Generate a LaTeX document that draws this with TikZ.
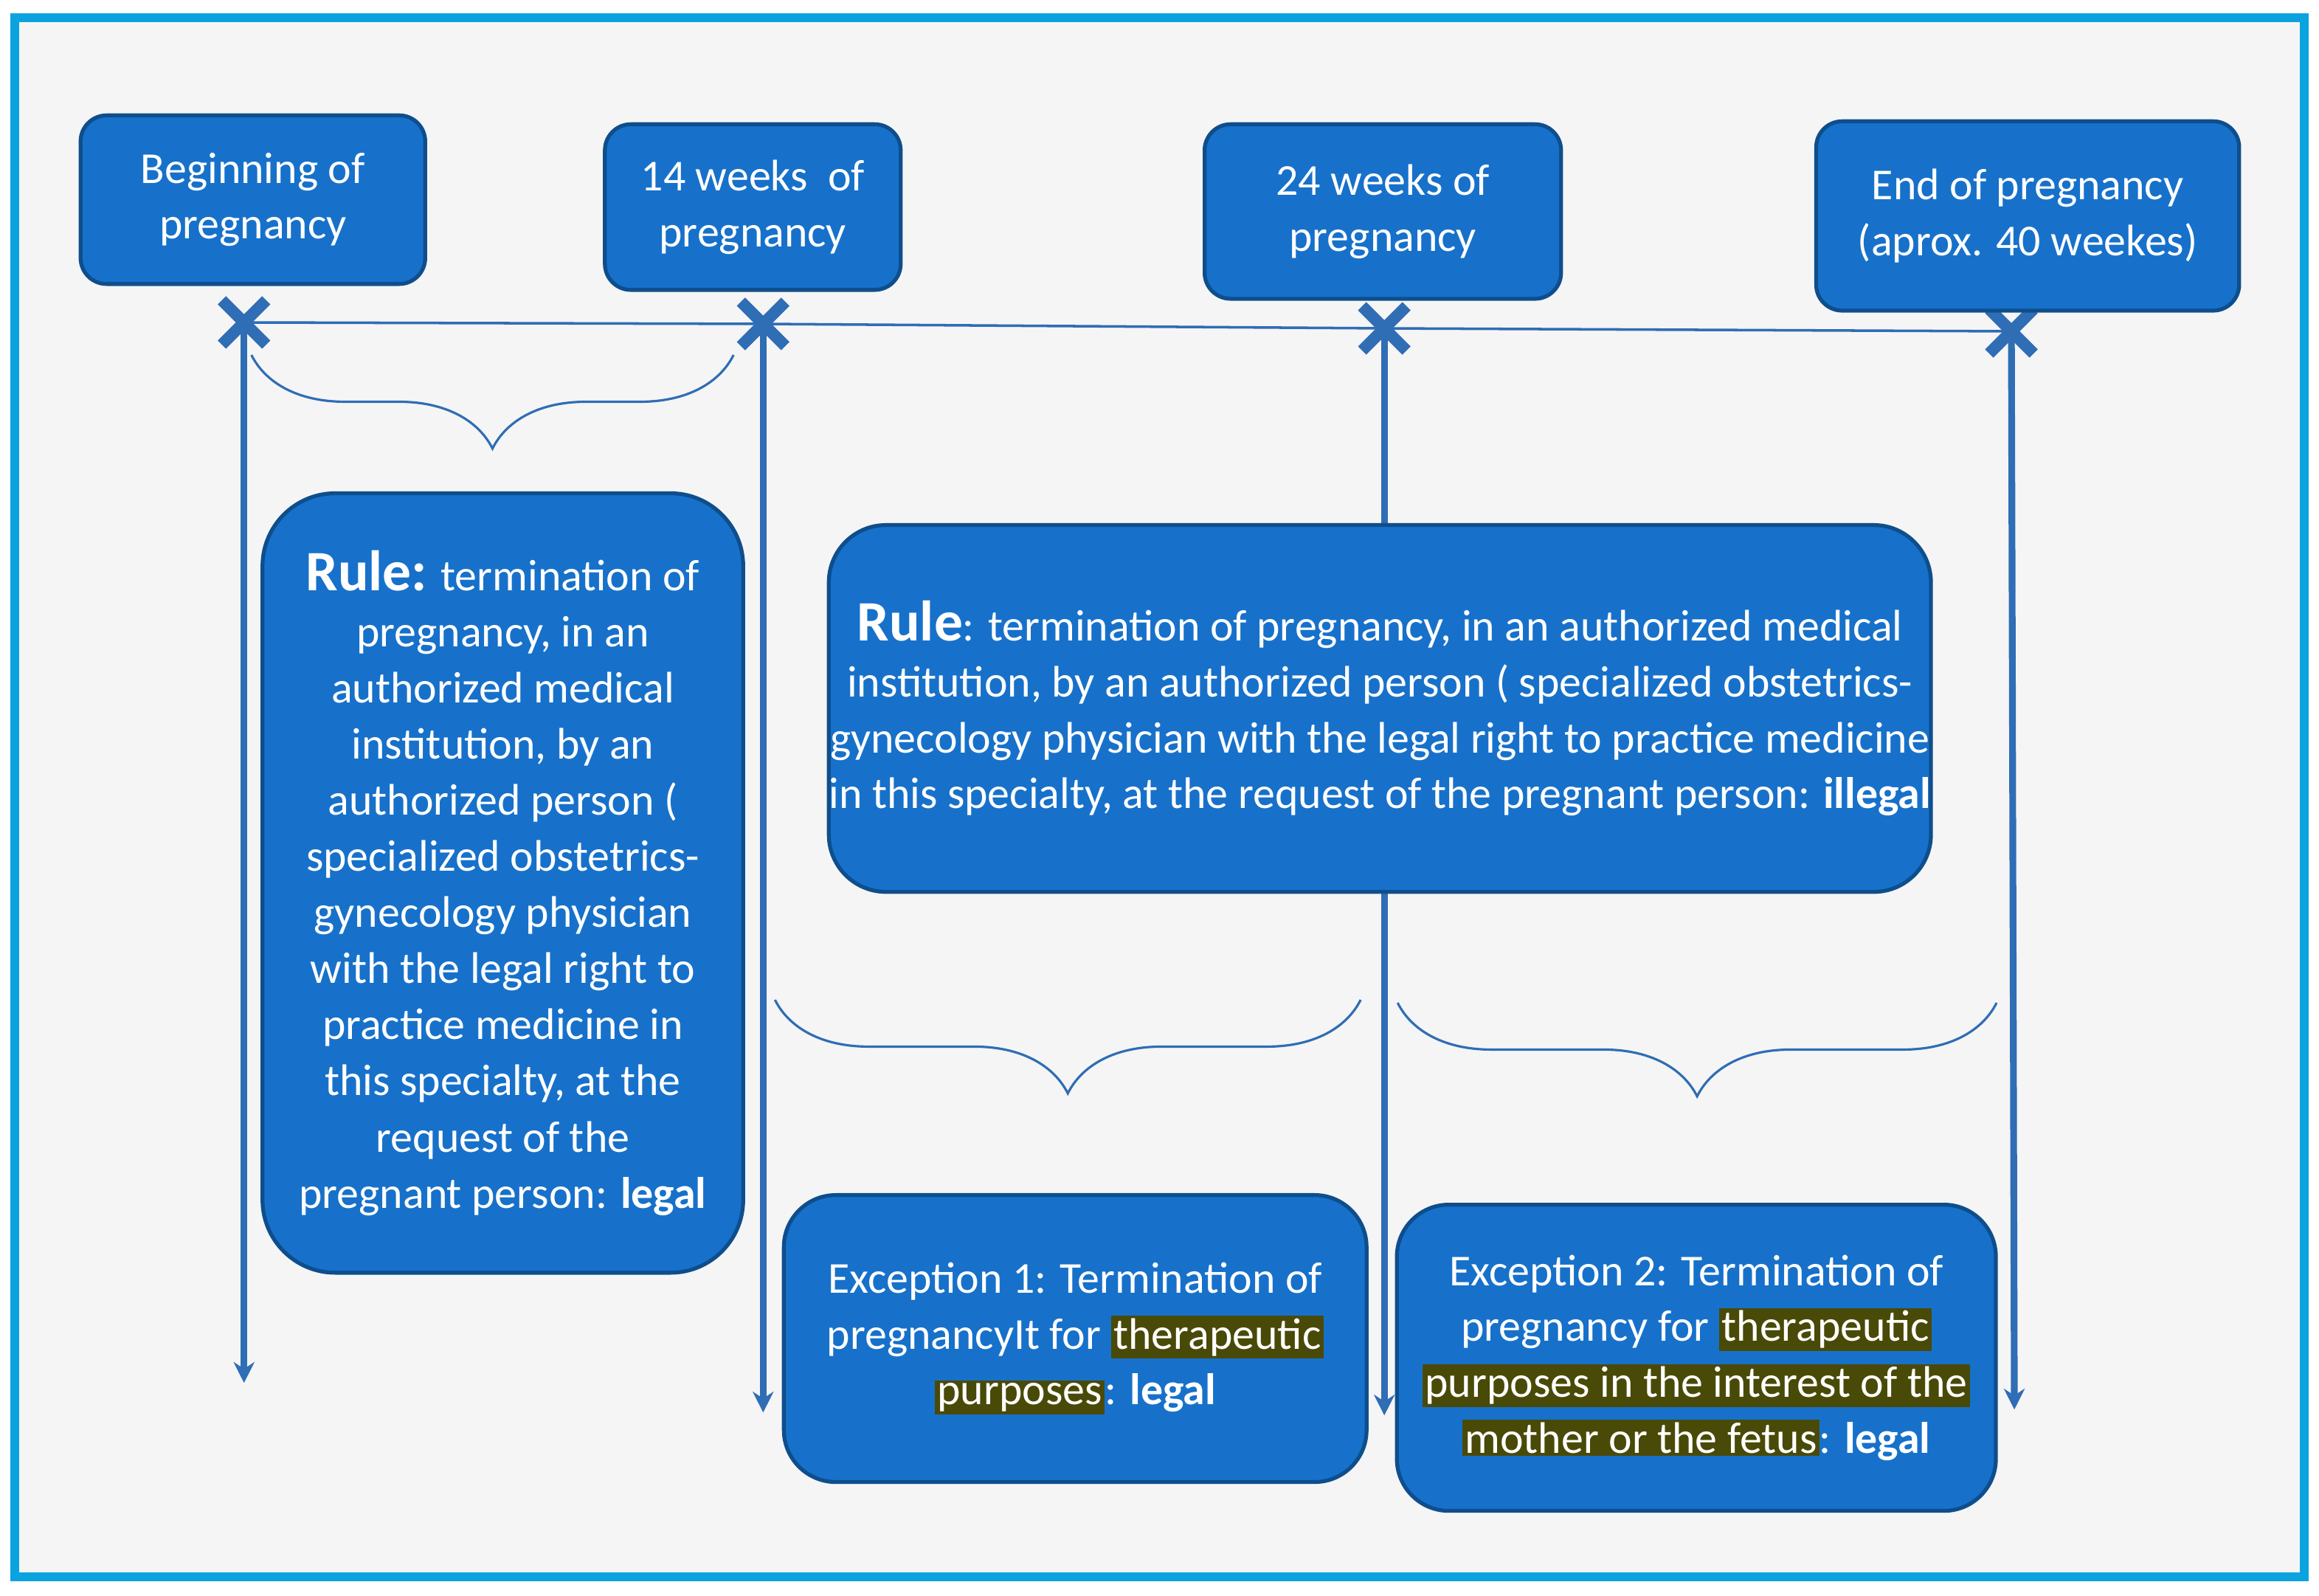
\documentclass[tikz,border=0pt]{standalone}
\usepackage{fontspec}
\setmainfont{Carlito}
\usetikzlibrary{decorations.pathreplacing,arrows.meta,calc}
\definecolor{bx}{HTML}{1771CA}
\definecolor{bd}{HTML}{0E4E8C}
\definecolor{ln}{HTML}{2F6DB5}
\definecolor{cy}{HTML}{0AA3DF}
\definecolor{hl}{HTML}{4A4A08}
\newcommand{\hlt}[1]{{\setlength{\fboxsep}{1pt}\colorbox{hl}{#1}}}
\begin{document}
\begin{tikzpicture}[x=0.02cm,y=-0.02cm,
 box/.style={draw=bd,line width=1.5pt,fill=bx,text=white,align=center,font=\fontsize{17}{21.5}\selectfont,inner sep=0pt},
 ax/.style={draw=ln,line width=2.6pt,-{Stealth[length=8pt,width=8pt]}},
 br/.style={draw=ln,line width=0.9pt,decorate,decoration={brace,mirror,amplitude=36}},
 xm/.style={draw=ln,line width=4.5pt}]
\useasboundingbox (0,0) rectangle (1568,1079);
\fill[white] (0,0) rectangle (1568,1079);
\draw[cy,line width=3.5pt,fill={rgb,255:red,245;green,245;blue,245}] (10,12) rectangle (1558,1066);
% timeline
\coordinate (c1) at (165,218); \coordinate (c2) at (516,219);
\coordinate (c3) at (936,222); \coordinate (c4) at (1360,224);
\draw[ln,line width=1pt] (c1) -- (c2) -- (c3) -- (c4);
\coordinate (e1) at (165,935); \coordinate (e2) at (516,955);
\coordinate (e3) at (936,957); \coordinate (e4) at (1362,953);
\foreach \a/\b in {c1/e1,c2/e2,c3/e3,c4/e4}{\draw[ax] (\a) -- (\b);}
\foreach \c in {c1,c2,c3,c4}{
 \draw[xm] ($(\c)+(-15,-15)$) -- ($(\c)+(15,15)$);
 \draw[xm] ($(\c)+(-15,15)$) -- ($(\c)+(15,-15)$);}
% top boxes
\node[box,rounded corners=10pt,minimum width=233*0.02cm,minimum height=114*0.02cm] (b1) at (171,135) {Beginning of\\pregnancy};
\node[box,rounded corners=10pt,minimum width=200*0.02cm,minimum height=112*0.02cm] (b2) at (509,140) {14 weeks\ \ of\\pregnancy};
\node[box,rounded corners=10pt,minimum width=241*0.02cm,minimum height=118*0.02cm] (b3) at (935,143) {24 weeks of\\pregnancy};
\node[box,rounded corners=10pt,minimum width=286*0.02cm,minimum height=128*0.02cm] (b4) at (1371,146) {End of pregnancy\\(aprox. 40 weekes)};
% rule boxes
\node[box,rounded corners=28pt,minimum width=325*0.02cm,minimum height=527*0.02cm,
 font=\fontsize{17}{21.6}\selectfont] (r1) at (340,597)
 {{\fontsize{22}{21.6}\selectfont\bfseries Rule:} termination of\\pregnancy, in an\\authorized medical\\institution, by an\\authorized person (\\specialized obstetrics-\\gynecology physician\\with the legal right to\\practice medicine in\\this specialty, at the\\request of the\\pregnant person: \textbf{legal}};
\node[box,rounded corners=22pt,minimum width=723*0.02cm,minimum height=248*0.02cm] (r2) at (933,479)
 {{\fontsize{22}{21.6}\selectfont\bfseries Rule}: termination of pregnancy, in an authorized medical\\institution, by an authorized person ( specialized obstetrics-\\gynecology physician with the legal right to practice medicine\\in this specialty, at the request of the pregnant person: \textbf{illegal}};
\node[box,rounded corners=20pt,minimum width=394*0.02cm,minimum height=194*0.02cm] (x1) at (727,905)
 {Exception 1: Termination of\\pregnancyIt for \hlt{therapeutic}\\\hlt{purposes}: \textbf{legal}};
\node[box,rounded corners=20pt,minimum width=405*0.02cm,minimum height=207*0.02cm] (x2) at (1147,918)
 {Exception 2: Termination of\\pregnancy for \hlt{therapeutic}\\\hlt{purposes in the interest of the}\\\hlt{mother or the fetus}: \textbf{legal}};
% braces
\coordinate (p1) at (170,240); \coordinate (q1) at (496,240);
\coordinate (p2) at (524,676); \coordinate (q2) at (920,676);
\coordinate (p3) at (945,678); \coordinate (q3) at (1350,678);
\draw[br] (p1) -- (q1);
\draw[br] (p2) -- (q2);
\draw[br] (p3) -- (q3);
\end{tikzpicture}
\end{document}
